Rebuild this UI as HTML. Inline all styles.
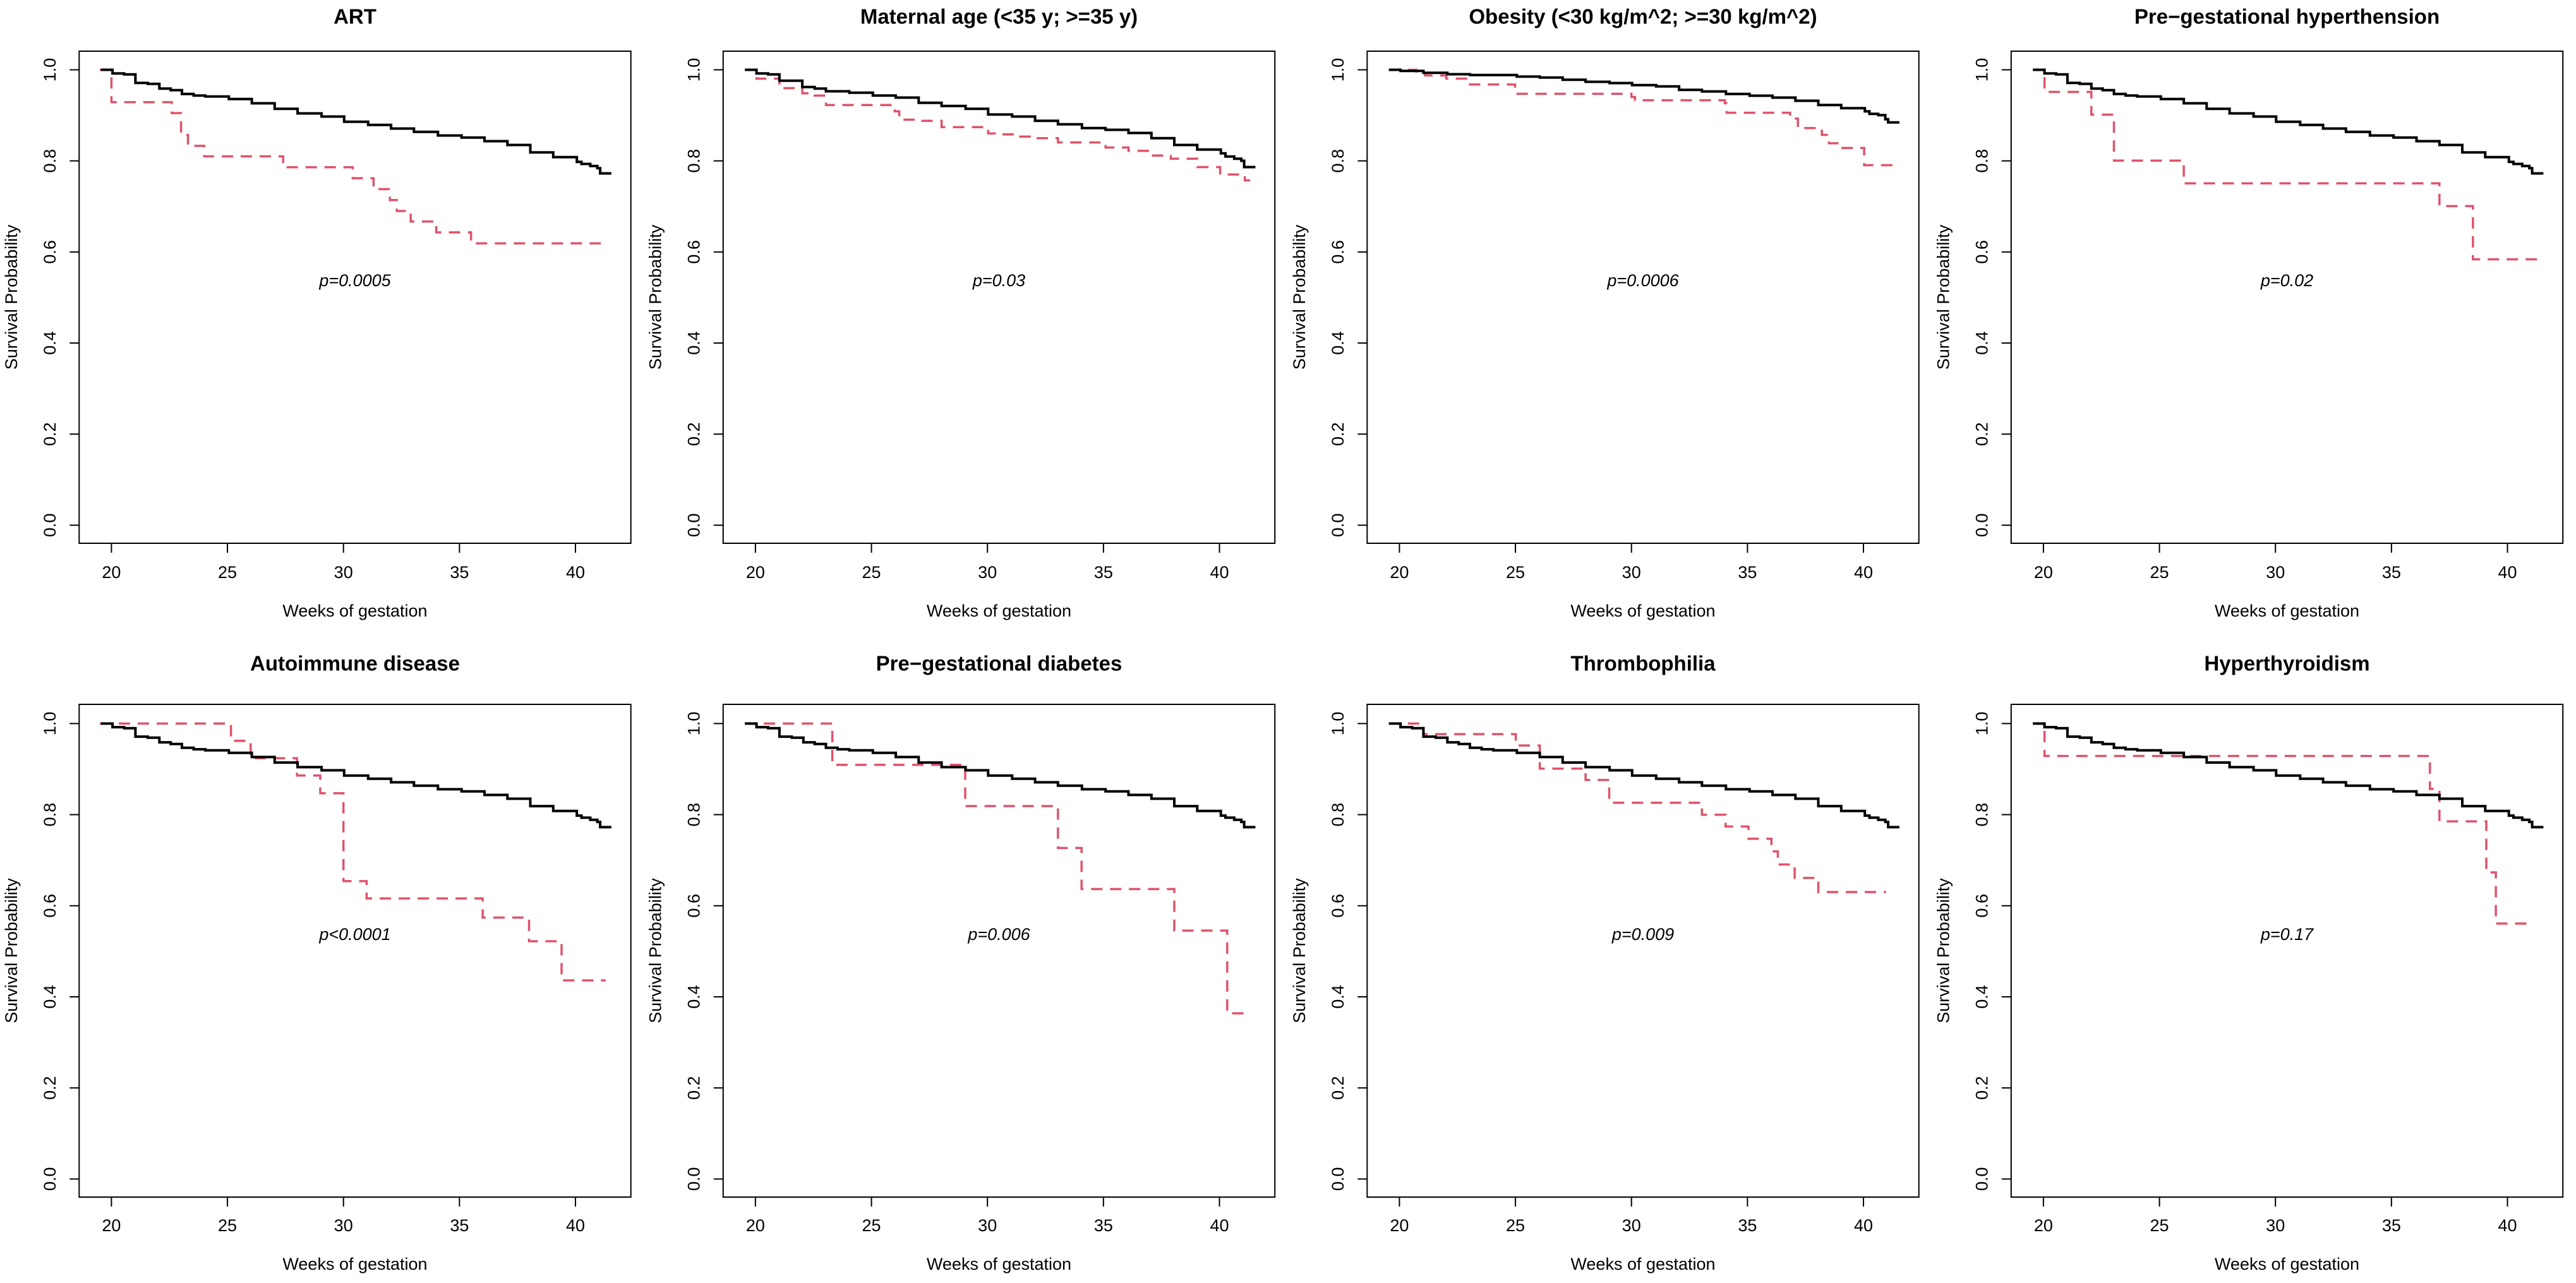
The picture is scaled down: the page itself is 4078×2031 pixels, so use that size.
<!DOCTYPE html>
<html><head><meta charset="utf-8"><style>
html,body{margin:0;padding:0;background:#fff}
svg text{font-family:"Liberation Sans",Arial,sans-serif;fill:#000}
</style></head><body>
<svg id="s" xmlns="http://www.w3.org/2000/svg" width="4078" height="2026" viewBox="0 0 4078 2026"></svg>
<script>
const S=document.getElementById('s');
let out='';
const rows=[{bt:81,bb:860,y1:110.5,y0:831.4,tl:908,wl:969,tt:29},{bt:1115,bb:1895,y1:1145.4,y0:1866.4,tl:1942,wl:2003,tt:1053}];
const titles=["ART","Maternal age (<35 y; >=35 y)","Obesity (<30 kg/m^2; >=30 kg/m^2)","Pre\u2212gestational hyperthension","Autoimmune disease","Pre\u2212gestational diabetes","Thrombophilia","Hyperthyroidism"];
const pv=["p=0.0005","p=0.03","p=0.0006","p=0.02","p<0.0001","p=0.006","p=0.009","p=0.17"];
// conversions
const zA=(a,end)=>({pts:a.map(p=>[20+(p[0]-92)/65.8,1-(p[1]-83)/2162.5]),end:20+(end-92)/65.8});
const zB=(a,end)=>({pts:a.map(p=>[20+(p[0]-92)/65.8,1-(p[1]-75)/2020]),end:20+(end-92)/65.8});
const gen=zA([[62,83],[95,100],[128,105],[160,115],[160,145],[195,150],[228,172],[260,180],[292,198],[325,205],[358,210],[425,222],[490,242],[555,268],[620,290],[688,305],[752,330],[820,345],[885,362],[950,378],[1018,395],[1085,405],[1150,422],[1215,440],[1280,475],[1345,498],[1412,520],[1425,530],[1450,540],[1470,550],[1478,575]],1510);
const black=[gen,
 zA([[62,83],[95,100],[128,105],[160,135],[225,165],[260,172],[292,185],[358,192],[425,205],[490,215],[555,240],[620,255],[688,268],[752,295],[820,305],[885,325],[950,342],[1018,360],[1085,368],[1150,383],[1215,408],[1280,440],[1345,462],[1412,480],[1425,495],[1450,505],[1470,515],[1478,545]],1510),
 zA([[62,83],[95,88],[160,97],[228,104],[292,108],[425,115],[490,120],[555,130],[620,140],[688,146],[752,156],[820,162],[885,178],[950,186],[1018,198],[1085,206],[1150,215],[1215,230],[1280,250],[1345,265],[1412,280],[1425,292],[1450,298],[1470,318],[1478,333]],1510),
 gen,gen,gen,gen,gen];
const red=[
 {pts:[[19.5,1],[20,0.929],[22.6,0.905],[23,0.857],[23.3,0.833],[24,0.810],[27.4,0.786],[30.4,0.762],[31.3,0.738],[32,0.714],[32.3,0.690],[32.9,0.667],[34,0.643],[35.5,0.619]],end:41.4},
 zA([[62,83],[95,125],[160,170],[225,195],[260,205],[292,250],[487,280],[500,320],[550,325],[620,355],[752,385],[790,390],[830,400],[870,408],[950,428],[1085,452],[1150,468],[1215,490],[1270,505],[1345,545],[1410,580],[1480,608]],1495),
 zA([[62,83],[140,98],[165,110],[225,125],[292,153],[420,197],[750,212],[760,228],[1015,242],[1020,287],[1200,315],[1222,360],[1290,392],[1310,432],[1345,454],[1410,536]],1495),
 zA([[62,83],[95,188],[228,296],[292,514],[490,622],[1215,730],[1310,983]],1508),
 {pts:[[19.5,1],[25.15,0.962],[26,0.924],[28,0.886],[29,0.847],[30,0.654],[31,0.616],[36,0.574],[38,0.522],[39.4,0.436]],end:41.3},
 zB([[62,75],[310,258],[687,441],[950,627],[1017,809],[1280,993],[1430,1360]],1495),
 zA([[62,83],[160,133],[422,187],[490,297],[620,351],[687,459],[950,516],[1017,572],[1082,630],[1147,690],[1165,752],[1213,816],[1280,883]],1472),
 zB([[62,75],[95,219],[1188,365],[1215,509],[1348,735],[1375,962]],1478)
];
function path(c,X,Y){let d='';c.pts.forEach((p,i)=>{const x=X(p[0]).toFixed(1),y=Y(p[1]).toFixed(1);if(i==0)d+='M'+x+' '+y;else d+='H'+x+'V'+y;});d+='H'+X(c.end).toFixed(1);return d;}
for(let i=0;i<8;i++){
 const r=rows[Math.floor(i/4)],ox=(i%4)*1019.5;
 const X=w=>ox+176.4+(w-20)*36.73, Y=v=>r.y0-(r.y0-r.y1)*v;
 const bl=ox+125.3,br=ox+998.7,cx=(bl+br)/2;
 out+=`<rect x="${bl}" y="${r.bt}" width="${br-bl}" height="${r.bb-r.bt}" fill="none" stroke="#000" stroke-width="2"/>`;
 out+=`<text x="${ox+562}" y="${r.tt}" font-size="33" font-weight="bold" text-anchor="middle" dominant-baseline="middle">${titles[i].replace(/</g,'&lt;').replace(/>/g,'&gt;')}</text>`;
 for(let w=20;w<=40;w+=5){const x=X(w);out+=`<line x1="${x}" y1="${r.bb}" x2="${x}" y2="${r.bb+15}" stroke="#000" stroke-width="2"/><text x="${x}" y="${r.tl}" font-size="27" text-anchor="middle" dominant-baseline="middle">${w}</text>`;}
 for(let k=0;k<=5;k++){const v=k/5,y=Y(v);out+=`<line x1="${bl}" y1="${y}" x2="${bl-15}" y2="${y}" stroke="#000" stroke-width="2"/><text transform="translate(${ox+81},${y}) rotate(-90)" font-size="27" text-anchor="middle" dominant-baseline="middle">${v.toFixed(1)}</text>`;}
 out+=`<text x="${ox+562}" y="${r.wl}" font-size="27" text-anchor="middle" dominant-baseline="middle">Weeks of gestation</text>`;
 out+=`<text transform="translate(${ox+20},${(r.bt+r.bb)/2}) rotate(-90)" font-size="27" text-anchor="middle" dominant-baseline="middle">Survival Probability</text>`;
 out+=`<text x="${ox+562}" y="${Y(0.535)}" font-size="27" font-style="italic" text-anchor="middle" dominant-baseline="middle">${pv[i].replace('<','&lt;')}</text>`;
 out+=`<path d="${path(red[i],X,Y)}" fill="none" stroke="#DF536B" stroke-width="3.5" stroke-dasharray="18 12"/>`;
 out+=`<path d="${path(black[i],X,Y)}" fill="none" stroke="#000" stroke-width="4"/>`;
}
S.innerHTML=out;
</script>
</body></html>
